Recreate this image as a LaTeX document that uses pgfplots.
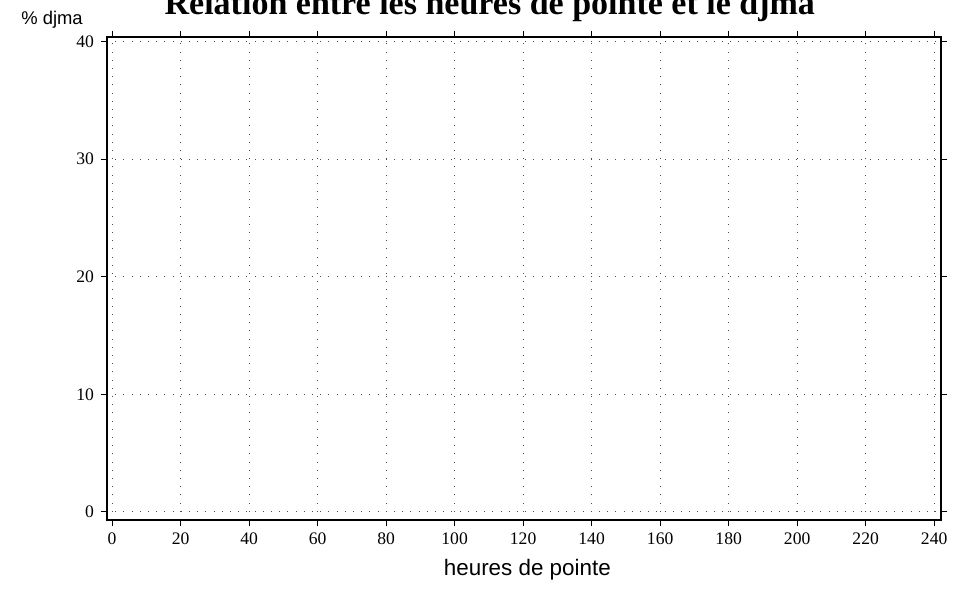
\documentclass[border=0pt]{standalone}
\usepackage{fontspec}
\setmainfont{Liberation Serif}
\setsansfont{Liberation Sans}
\usepackage{pgfplots}
\pgfplotsset{compat=1.18}
\begin{document}
\begin{tikzpicture}
\begin{axis}[
  scale only axis,
  width=417pt, height=241.5pt,
  xmin=-1.5, xmax=242, ymin=-0.7, ymax=40.4,
  xtick={0,20,...,240}, ytick={0,10,...,40},
  axis line style={line width=1pt, black},
  tick align=outside, major tick length=3pt,
  tick style={black, line width=0.4pt},
  grid=major,
  major grid style={black!70, line width=0.5pt, dash pattern=on 0.5pt off 3.6pt},
  /pgf/number format/assume math mode=true,
  ticklabel style={font=\fontsize{8.8}{10}\selectfont},
  title={Relation entre les heures de pointe et le djma},
  every axis title/.style={font=\bfseries\fontsize{17}{19}\selectfont, at={(axis description cs:0.459,1)}, anchor=base, yshift=11pt},
  every axis x label/.style={at={(axis description cs:0.504,0)}, anchor=center, yshift=-25pt, font=\sffamily\fontsize{11.2}{13}\selectfont},
  every axis y label/.style={at={(axis description cs:0,1)}, anchor=center, xshift=-27.5pt, yshift=8.5pt, font=\sffamily\fontsize{9.2}{11}\selectfont},
  xlabel={heures de pointe},
  ylabel={\% djma},
]
\end{axis}
\pgfresetboundingbox
\path ([xshift=-53.5pt,yshift=-38.5pt]current axis.south west) rectangle ([xshift=16.5pt,yshift=18.5pt]current axis.north east);
\end{tikzpicture}
\end{document}
